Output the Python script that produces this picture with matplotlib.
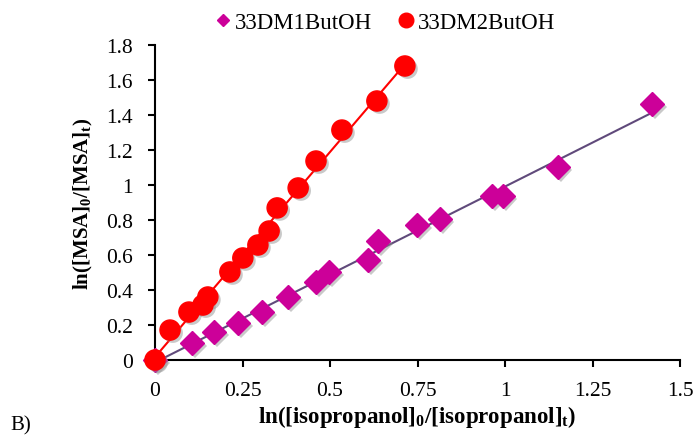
import numpy as np
import matplotlib
matplotlib.use('Agg')
import matplotlib.pyplot as plt
import matplotlib.patheffects as pe

plt.rcParams['font.family'] = 'Liberation Serif'
plt.rcParams['mathtext.fontset'] = 'custom'
plt.rcParams['mathtext.rm'] = 'Liberation Serif'
plt.rcParams['mathtext.bf'] = 'Liberation Serif:bold'

# 33DM1ButOH (diamonds)
x1 = [0, 0.106, 0.169, 0.237, 0.306, 0.38, 0.46, 0.497, 0.609, 0.637, 0.749, 0.814, 0.963, 0.994, 1.151, 1.42]
y1 = [0, 0.097, 0.16, 0.211, 0.274, 0.36, 0.446, 0.503, 0.571, 0.68, 0.771, 0.806, 0.937, 0.937, 1.103, 1.463]
# 33DM2ButOH (circles)
x2 = [0, 0.043, 0.097, 0.137, 0.151, 0.214, 0.251, 0.294, 0.326, 0.349, 0.409, 0.46, 0.534, 0.634, 0.714]
y2 = [0, 0.171, 0.274, 0.314, 0.36, 0.503, 0.583, 0.657, 0.737, 0.869, 0.983, 1.137, 1.314, 1.48, 1.68]

xticks = [0, 0.25, 0.5, 0.75, 1, 1.25, 1.5]
xticklabels = ['0', '0.25', '0.5', '0.75', '1', '1.25', '1.5']
yticks = [0, 0.2, 0.4, 0.6, 0.8, 1.0, 1.2, 1.4, 1.6, 1.8]
yticklabels = ['0', '0.2', '0.4', '0.6', '0.8', '1', '1.2', '1.4', '1.6', '1.8']

fig = plt.figure(figsize=(6.94, 4.39), dpi=100)
ax = fig.add_axes([155/694, 1 - 361/439, (680-155)/694, (361-46)/439])

shadow = [pe.SimplePatchShadow(offset=(2, -2), shadow_rgbFace='#888888', alpha=0.45), pe.Normal()]

# linear trendlines
s1 = np.polyfit(x1, y1, 1)
s2 = np.polyfit(x2, y2, 1)
xx1 = np.array([0, max(x1)])
xx2 = np.array([0, max(x2)])
ax.plot(xx1, np.polyval(s1, xx1), color='#604A7B', lw=1.5, zorder=2)
ax.plot(xx2, np.polyval(s2, xx2), color='#FF0000', lw=1.5, zorder=2)

ax.plot(x1, y1, 'D', color='#CC0099', ms=12, mec='#CC0099', ls='none', zorder=3,
        path_effects=shadow, label='33DM1ButOH', clip_on=False)
ax.plot(x2, y2, 'o', color='#FF0000', ms=14.5, mec='#FF0000', ls='none', zorder=4,
        path_effects=shadow, label='33DM2ButOH', clip_on=False)

ax.set_xlim(0, 1.5)
ax.set_ylim(0, 1.8)
ax.set_xticks(xticks)
ax.set_xticklabels(xticklabels, fontsize=15.5)
ax.set_yticks(yticks)
ax.set_yticklabels(yticklabels, fontsize=15.5)
ax.spines['top'].set_visible(False)
ax.spines['right'].set_visible(False)
ax.spines['left'].set_linewidth(1.5)
ax.spines['bottom'].set_linewidth(1.5)
ax.tick_params(direction='out', length=5, width=1.5)
ax.tick_params(axis='x', pad=10)
ax.tick_params(axis='y', pad=11)

ax.set_xlabel(r'$\mathbf{ln([isopropanol]_{0}/[isopropanol]_{t})}$', fontsize=16.5, labelpad=2)
ax.set_ylabel(r'$\mathbf{ln([MSA]_{0}/[MSA]_{t})}$', fontsize=15, labelpad=8)

leg = ax.legend(loc='lower center', bbox_to_anchor=(0.44, 1.01), ncol=2, frameon=False,
                fontsize=16.5, handlelength=0.55, handletextpad=0.25,
                columnspacing=1.2, borderaxespad=0.0)
leg.legend_handles[0].set_markersize(6)
leg.legend_handles[1].set_markersize(10.5)
for h in leg.legend_handles:
    h.set_path_effects([])

fig.text(10/694, 4/439, 'B)', fontsize=15, va='bottom')

fig.savefig('out.png', dpi=100)
